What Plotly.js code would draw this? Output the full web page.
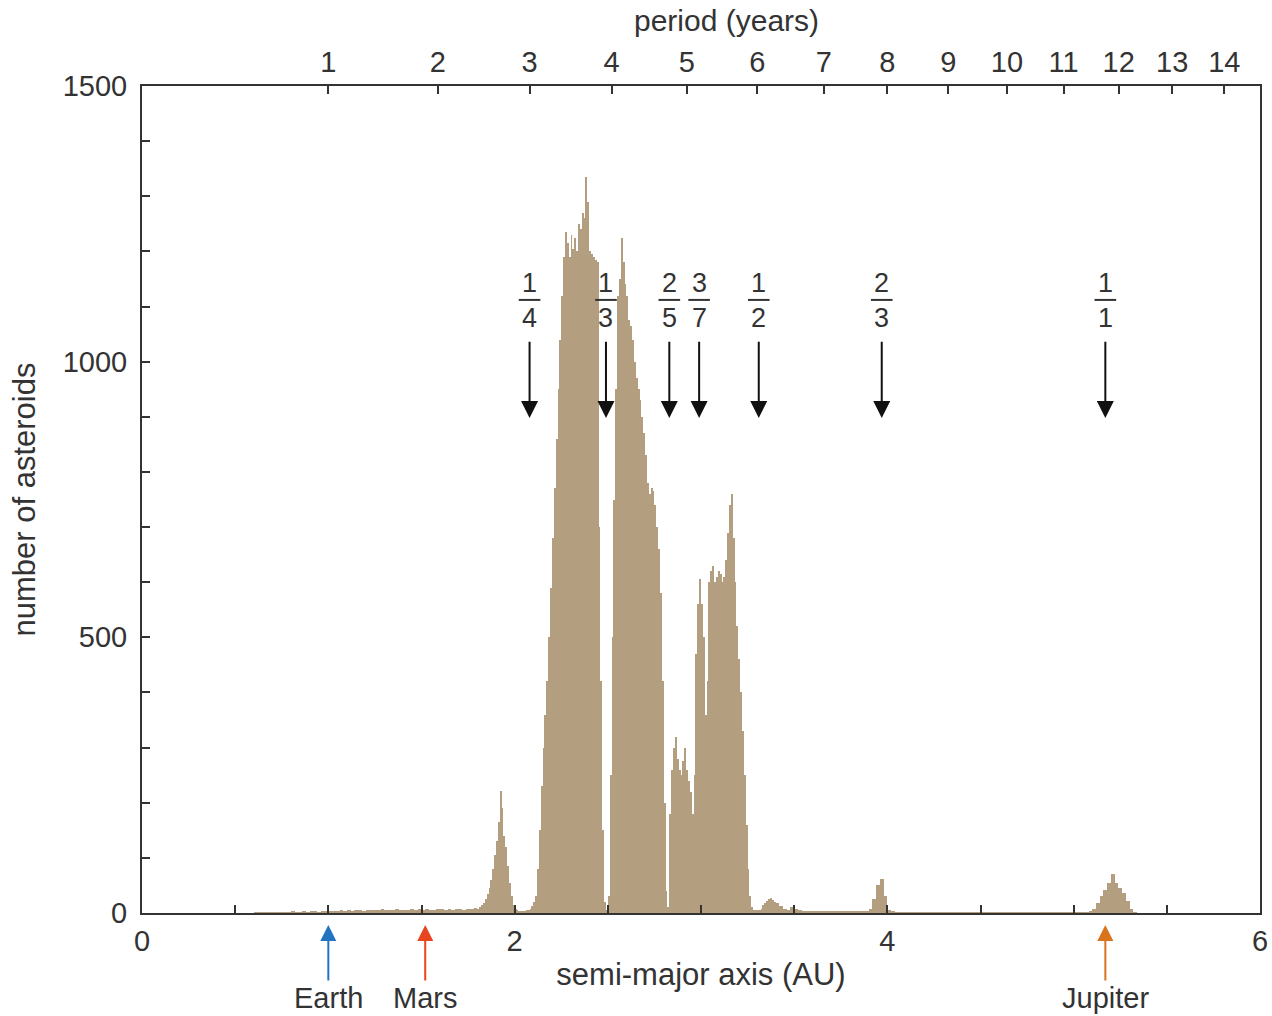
<!DOCTYPE html>
<html><head><meta charset="utf-8">
<script src="https://cdn.plot.ly/plotly-3.0.1.min.js"></script>
<style>body{margin:0;background:#fff}#chart{width:1272px;height:1016px}</style>
</head><body><div id="chart"></div>
<script>
// ---- histogram data (number of asteroids per semi-major-axis bin) ----
const lowBinStart = 0.0, lowBinWidth = 0.02;   // 0.00 - 1.80 AU
const countsLow = [
  0,0,0,0,0,0,0,0,0,0, 0,0,0,0,0,0,0,0,0,0, 0,0,0,0,0,0,0,0,0,0,
  1,1,1,2,1,2,2,1,2,2, 3,2,2,3,2,3,3,2,3,3,
  4,3,4,5,4,5,4,6,5,4, 5,6,5,6,7,5,6,5,7,6, 5,6,7,6,8,6,7,6,5,7, 8,6,7,6,8,7,6,7,8,9
];
const beltBinStart = 1.80, beltBinWidth = 0.01;  // 1.80 - 3.40 AU
const countsBelt = [
  8,10,14,18,25,35,45,60,80,105,
  130,165,222,190,140,120,85,55,30,15,
  8,5,4,3,3,4,5,6,8,12,
  20,30,80,150,230,300,360,420,500,590,
  680,770,860,950,1040,1120,1190,1235,1215,1190,
  1230,1205,1225,1200,1250,1240,1270,1260,1335,1290,
  1200,1195,1190,1185,1180,700,420,150,20,5,
  30,250,500,750,950,1120,1150,1225,1180,1140,
  1120,1075,1065,1040,1000,970,950,930,900,870,
  830,780,760,770,765,740,700,660,580,420,
  200,40,10,180,260,300,320,280,260,250,
  275,300,260,240,220,180,250,470,560,605,
  560,500,360,420,600,620,630,600,610,620,
  615,600,610,640,690,740,760,680,600,520,
  460,400,330,250,160,80,30,10,6,5,
  5,6,8,14,18,22,25,27,24,20
];
const outerBinStart = 3.40, outerBinWidth = 0.02; // 3.40 - 6.00 AU
const countsOuter = [
  18,12,8,6,10,8,5,4,4,3,
  4,3,3,4,3,3,3,4,3,3,
  3,4,3,4,4,8,25,50,62,30,
  5,3,2,2,2,2,2,2,2,2,
  2,2,2,2,2,2,2,2,2,2,
  2,2,2,2,2,2,2,2,2,2,
  2,2,2,2,2,2,2,2,2,2,
  2,2,2,2,2,2,2,2,2,2,
  2,2,2,2,3,8,18,30,42,55,
  70,55,46,36,22,8,1,0,0,0,
  0,0,0,0,0,0,0,0,0,0,
  0,0,0,0,0,0,0,0,0,0,
  0,0,0,0,0,0,0,0,0,0
];

// ---- axis / annotation data ----
const periodYears = [1,2,3,4,5,6,7,8,9,10,11,12,13,14];
const resonanceA   = [2.08, 2.49, 2.83, 2.99, 3.31, 3.97, 5.17];
const resonanceNum = ['1','1','2','3','1','2','1'];
const resonanceDen = ['4','3','5','7','2','3','1'];
const planetNames  = ['Earth','Mars','Jupiter'];
const planetA      = [1.0, 1.52, 5.17];
const planetColors = ['#2274c0','#e8441f','#d9731c'];

const BAR = '#b39e80';
const INK = '#333333';
const FONT = 'Liberation Sans, Arial, sans-serif';

function barTrace(start, width, counts){
  return {type:'bar', x0:start+width/2, dx:width, width:width, y:counts,
    marker:{color:BAR, line:{width:0}}, hoverinfo:'skip', showlegend:false};
}
const traces = [
  barTrace(lowBinStart, lowBinWidth, countsLow),
  barTrace(beltBinStart, beltBinWidth, countsBelt),
  barTrace(outerBinStart, outerBinWidth, countsOuter),
  {type:'scatter', mode:'lines', x:[0,6], y:[0,0], xaxis:'x2', yaxis:'y',
   line:{width:0}, opacity:0, hoverinfo:'skip', showlegend:false}
];

const annotations = [];
const shapes = [];
resonanceA.forEach((a,i)=>{
  annotations.push({x:a, y:1143, xref:'x', yref:'y', text:resonanceNum[i], showarrow:false,
    font:{size:27, color:INK, family:FONT}, yanchor:'middle'});
  annotations.push({x:a, y:1079, xref:'x', yref:'y', text:resonanceDen[i], showarrow:false,
    font:{size:27, color:INK, family:FONT}, yanchor:'middle'});
  shapes.push({type:'line', xref:'x', yref:'y', x0:a-0.058, x1:a+0.058, y0:1112, y1:1112,
    line:{color:INK, width:2}});
  annotations.push({x:a, y:898, ax:a, ay:1039, xref:'x', yref:'y', axref:'x', ayref:'y',
    text:'', showarrow:true, arrowhead:2, arrowsize:1.7, arrowwidth:2, arrowcolor:'#111'});
});
planetNames.forEach((n,i)=>{
  annotations.push({x:planetA[i], y:-0.0145, xref:'x', yref:'paper', text:n,
    showarrow:true, ax:0, ay:73, arrowhead:2, arrowsize:1.6, arrowwidth:2,
    arrowcolor:planetColors[i], font:{size:29, color:INK, family:FONT}});
});
annotations.push({x:0.523, y:1.0795, xref:'paper', yref:'paper', text:'period (years)',
  showarrow:false, font:{size:30, color:INK, family:FONT}, yanchor:'middle'});

const axisCommon = {showgrid:false, zeroline:false, showline:true, linecolor:INK, linewidth:2,
  ticks:'inside', ticklen:8, tickwidth:2, tickcolor:INK,
  tickfont:{size:29, color:INK, family:FONT}};

const layout = {
  width:1272, height:1016,
  margin:{l:142, r:12, t:86, b:103},
  paper_bgcolor:'#ffffff', plot_bgcolor:'#ffffff',
  barmode:'overlay', bargap:0,
  font:{family:FONT, color:INK},
  xaxis: Object.assign({}, axisCommon, {
    range:[0,6], tick0:0, dtick:2, mirror:true, ticklabelstandoff:1,
    minor:{dtick:0.5, ticks:'inside', ticklen:8, tickwidth:2, tickcolor:INK},
    title:{text:'semi-major axis (AU)', font:{size:31, color:INK, family:FONT}, standoff:8}
  }),
  xaxis2: Object.assign({}, axisCommon, {
    overlaying:'x', side:'top', anchor:'y', range:[0,6],
    tickmode:'array', tickvals:periodYears.map(p=>Math.pow(p,2/3)),
    ticktext:periodYears.map(String), ticklabelstandoff:0
  }),
  yaxis: Object.assign({}, axisCommon, {
    range:[0,1500], tick0:0, dtick:500, mirror:true, ticklabelstandoff:7,
    minor:{dtick:100, ticks:'inside', ticklen:8, tickwidth:2, tickcolor:INK},
    title:{text:'number of asteroids', font:{size:31, color:INK, family:FONT}, standoff:18}
  }),
  annotations:annotations, shapes:shapes
};
Plotly.newPlot('chart', traces, layout, {displayModeBar:false, staticPlot:true});
</script></body></html>
